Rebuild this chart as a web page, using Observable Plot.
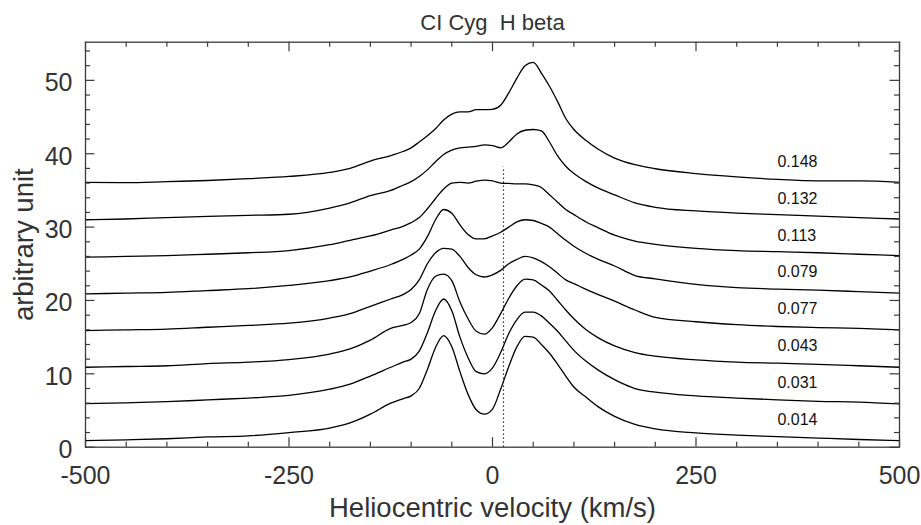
<!DOCTYPE html>
<html><head><meta charset="utf-8">
<script src="https://cdn.jsdelivr.net/npm/d3@7"></script>
<script src="https://cdn.jsdelivr.net/npm/@observablehq/plot@0.6"></script>
<style>
body{margin:0;background:#fff}
#chart{width:921px;height:525px}
svg text{white-space:pre}
</style>
</head><body><div id="chart"></div>
<script>
// Heliocentric velocity grid (km/s)
const velocity = [-500,-450,-400,-350,-300,-250,-200,-175,-150,-125,-110,-100,-90,-80,-70,-60,-50,-40,-30,-20,-10,0,10,20,30,40,50,60,70,80,90,100,115,130,150,175,200,250,300,350,400,450,500];

// Flux (arbitrary unit, already offset) for each orbital phase
const phase014 = [0.9,1.0,1.15,1.4,1.55,2.0,2.6,3.3,4.5,6.0,6.6,7.0,8.0,10.6,13.6,15.2,13.7,10.3,7.2,5.1,4.5,5.2,7.9,11.0,13.7,15.1,15.0,14.0,12.8,11.3,9.7,8.2,6.8,5.5,4.2,3.1,2.5,1.95,1.65,1.45,1.25,1.05,0.9];
const phase031 = [5.95,6.05,6.2,6.45,6.7,7.05,7.9,8.6,9.7,10.9,11.6,12.0,13.1,15.6,18.6,20.2,18.6,15.0,12.2,10.3,10.0,10.8,12.9,15.5,17.4,18.4,18.4,17.9,16.9,15.8,14.5,13.2,11.7,10.5,9.2,8.0,7.5,7.0,6.7,6.45,6.25,6.15,5.9];
const phase043 = [10.9,11.0,11.1,11.4,11.6,11.95,12.7,13.4,14.6,16.2,16.6,17.0,18.2,21.5,23.3,23.6,22.7,19.8,17.5,15.8,15.4,16.3,18.2,20.3,22.0,22.9,22.8,22.1,21.3,20.0,18.7,17.5,16.0,14.9,13.8,12.9,12.4,11.9,11.6,11.45,11.3,11.1,10.9];
const phase077 = [15.9,16.0,16.1,16.35,16.6,16.9,17.6,18.2,19.2,20.2,20.8,21.5,22.8,25.0,26.5,27.1,27.0,26.0,24.5,23.5,23.2,23.5,24.1,25.0,25.6,26.0,25.8,25.3,24.6,23.7,22.8,22.3,21.5,20.8,19.9,18.7,17.7,17.1,16.7,16.45,16.3,16.2,16.0];
const phase079 = [20.9,21.0,21.1,21.35,21.6,22.05,22.7,23.2,24.0,24.9,25.6,26.2,27.0,28.7,31.0,32.4,31.9,30.3,29.0,28.4,28.4,28.8,29.3,30.0,30.7,31.0,30.9,30.5,30.0,29.1,28.2,27.4,26.4,25.6,24.7,23.4,22.95,22.2,21.75,21.55,21.4,21.2,21.0];
const phase113 = [25.9,26.0,26.1,26.3,26.5,26.8,27.6,28.2,28.8,29.6,30.1,30.6,31.3,32.5,33.9,35.2,36.0,36.1,36.0,36.25,36.4,36.3,36.0,35.95,35.9,35.9,35.75,35.4,34.4,33.4,32.4,31.7,30.7,29.9,28.9,28.1,27.65,27.1,26.8,26.65,26.5,26.3,26.1];
const phase132 = [31.0,31.1,31.3,31.45,31.6,31.75,32.6,33.3,34.3,35.0,35.7,36.2,36.9,37.8,38.9,39.9,40.5,40.8,40.9,41.0,41.2,41.1,40.8,41.6,42.7,43.2,43.3,43.1,41.6,39.7,38.3,37.3,36.2,35.3,34.4,33.3,32.7,32.2,31.9,31.7,31.5,31.3,31.1];
const phase148 = [36.1,36.05,36.2,36.35,36.6,36.9,37.45,38.0,39.0,39.75,40.3,40.8,41.6,42.45,43.4,44.6,45.4,45.7,45.7,46.0,46.0,46.05,46.6,48.3,50.3,52.0,52.45,51.0,49.2,47.1,44.8,43.3,41.8,40.6,39.4,38.5,37.95,37.3,36.85,36.5,36.3,36.3,36.1];

const phaseLabels = ["0.014","0.031","0.043","0.077","0.079","0.113","0.132","0.148"];
const phaseSeries = [phase014,phase031,phase043,phase077,phase079,phase113,phase132,phase148];
const labelX = 350;
const labelY = [3.75,8.75,13.8,18.85,23.9,28.8,33.85,38.85];

// Dotted reference velocity line
const refVelocity = 13.5;
const refTop = 38.2;

// Axes
const xTicks = [-500,-250,0,250,500];
const xTickLabels = ["-500","-250","0","250","500"];
const xMinor = [-450,-400,-350,-300,-200,-150,-100,-50,50,100,150,200,300,350,400,450];
const yTicks = [0,10,20,30,40,50];
const yTickLabels = ["0","10","20","30","40","50"];
const yMinor = [2,4,6,8,12,14,16,18,22,24,26,28,32,34,36,38,42,44,46,48,52,54];
const xDomain = [-500,500];
const yDomain = [0,55.2];

const titleText = "CI Cyg  H beta";
const xLabel = "Heliocentric velocity (km/s)";
const yLabel = "arbitrary unit";

const rows = phaseSeries.flatMap((s, i) => s.map((f, j) => ({phase: phaseLabels[i], v: velocity[j], f})));
const labelRows = phaseLabels.map((p, i) => ({p, x: labelX, y: labelY[i]}));

const W = 921, H = 525, mL = 85, mR = 22, mT = 41.7, mB = 78.3;
const fw = W - mL - mR, fh = H - mT - mB;
const majorLen = 9.5, minorLen = 5;
const axisColor = "#3a3a3a", textColor = "#333";

const plot = Plot.plot({
  width: W, height: H,
  marginLeft: mL, marginRight: mR, marginTop: mT, marginBottom: mB,
  style: {fontFamily: "'Liberation Sans', Arial, Helvetica, sans-serif", background: "#fff"},
  x: {domain: xDomain},
  y: {domain: yDomain},
  marks: [
    Plot.line(rows, {x: "v", y: "f", z: "phase", stroke: "#000", strokeWidth: 1.3, curve: "monotone-x"}),
    Plot.ruleX([refVelocity], {x: d => d, y1: 0, y2: refTop, stroke: "#000", strokeWidth: 1.2, strokeDasharray: "1.3,2.7"}),
    Plot.text(labelRows, {x: "x", y: "y", text: "p", textAnchor: "start", fontSize: 16, fill: "#111"}),
    // ticks inward, all four sides
    Plot.ruleX(xTicks, {x: d => d, insetTop: fh - majorLen, stroke: axisColor, strokeWidth: 1.2}),
    Plot.ruleX(xTicks, {x: d => d, insetBottom: fh - majorLen, stroke: axisColor, strokeWidth: 1.2}),
    Plot.ruleX(xMinor, {x: d => d, insetTop: fh - minorLen, stroke: axisColor, strokeWidth: 1.2}),
    Plot.ruleX(xMinor, {x: d => d, insetBottom: fh - minorLen, stroke: axisColor, strokeWidth: 1.2}),
    Plot.ruleY(yTicks, {y: d => d, insetRight: fw - majorLen, stroke: axisColor, strokeWidth: 1.2}),
    Plot.ruleY(yTicks, {y: d => d, insetLeft: fw - majorLen, stroke: axisColor, strokeWidth: 1.2}),
    Plot.ruleY(yMinor, {y: d => d, insetRight: fw - minorLen, stroke: axisColor, strokeWidth: 1.2}),
    Plot.ruleY(yMinor, {y: d => d, insetLeft: fw - minorLen, stroke: axisColor, strokeWidth: 1.2}),
    Plot.frame({stroke: axisColor, strokeWidth: 1.3}),
    Plot.axisX({ticks: xTicks, tickSize: 0, tickPadding: 19, fontSize: 25, fill: textColor, label: null, tickFormat: d => xTickLabels[xTicks.indexOf(d)]}),
    Plot.axisY({ticks: yTicks, tickSize: 0, tickPadding: 13, fontSize: 25, fill: textColor, label: null, dy: 3, tickFormat: d => yTickLabels[yTicks.indexOf(d)]}),
    Plot.text([titleText], {frameAnchor: "top", dy: -19, fontSize: 22, fill: textColor, textAnchor: "middle", lineAnchor: "middle"}),
    Plot.text([xLabel], {frameAnchor: "bottom", dy: 61, fontSize: 27.5, fill: textColor, textAnchor: "middle", lineAnchor: "middle"}),
    Plot.text([yLabel], {frameAnchor: "left", dx: -61, rotate: -90, fontSize: 27.5, fill: textColor, textAnchor: "middle", lineAnchor: "middle"})
  ]
});
document.getElementById("chart").appendChild(plot);
</script>
</body></html>
